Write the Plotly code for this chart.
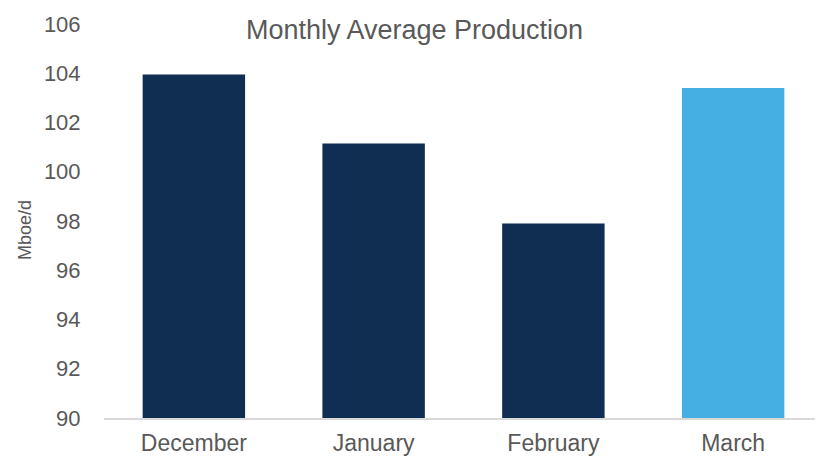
import plotly.graph_objects as go

months = ["December", "January", "February", "March"]
production = [103.95, 101.15, 97.9, 103.4]
bar_colors = ["#102D52", "#102D52", "#102D52", "#45AEE2"]
y_ticks = [90, 92, 94, 96, 98, 100, 102, 104, 106]

# page body has an 8px margin, so the figure is shifted by 8px; compensate
W, H = 815, 449
L, R, T, B = 96, 0, 16, 39
PW, PH = W - L - R, H - T - B

fig = go.Figure(go.Bar(x=months, y=production, marker=dict(color=bar_colors, line=dict(width=0))))

fig.update_layout(
    width=W, height=H,
    margin=dict(l=L, r=R, t=T, b=B, autoexpand=False),
    paper_bgcolor="white", plot_bgcolor="white",
    bargap=0.43,
    showlegend=False,
    font=dict(family="Liberation Sans, Arial, sans-serif", color="#595959"),
    title=dict(text="Monthly Average Production", x=(414.5 - 8) / W, xanchor="center",
               y=1 - 22 / H, yanchor="middle", yref="container",
               font=dict(size=27, color="#595959")),
    annotations=[dict(text="Mboe/d", textangle=-90, showarrow=False,
                      xref="paper", yref="paper",
                      x=(25 - 8 - L) / PW, y=(T + PH - (230 - 8)) / PH,
                      xanchor="center", yanchor="middle",
                      font=dict(size=18, color="#595959"))],
)
fig.update_xaxes(showline=True, linecolor="#D9D9D9", linewidth=1.5, showgrid=False, automargin=False,
                 tickfont=dict(size=23, color="#595959"), ticks="outside", ticklen=4,
                 tickcolor="rgba(0,0,0,0)")
fig.update_yaxes(range=[90, 106], tickvals=y_ticks, showgrid=False, zeroline=False, showline=False,
                 automargin=False,
                 tickfont=dict(size=22, color="#595959"), ticks="outside", ticklen=18,
                 tickcolor="rgba(0,0,0,0)")

fig.write_html("out.html")
